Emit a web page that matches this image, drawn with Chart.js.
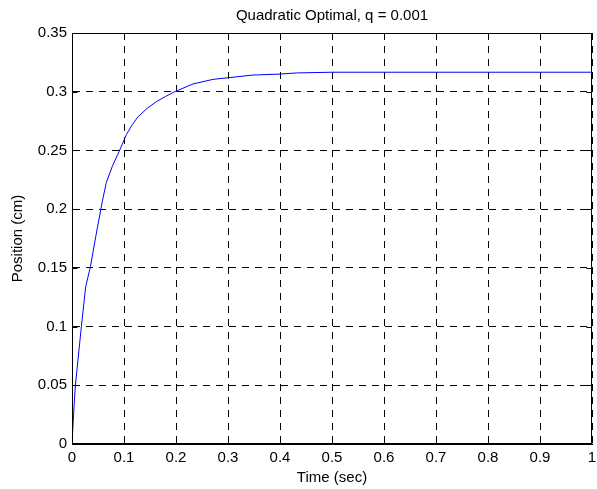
<!DOCTYPE html>
<html>
<head>
<meta charset="utf-8">
<script src="https://cdn.jsdelivr.net/npm/chart.js@4/dist/chart.umd.min.js"></script>
<style>
html,body{margin:0;padding:0;background:#fff;}
#wrap{width:597px;height:489px;}
</style>
</head>
<body>
<div id="wrap"><canvas id="c" width="597" height="489"></canvas></div>
<script>
const timeSec = [0, 0.003, 0.0065, 0.018, 0.0263, 0.0354, 0.0456, 0.0585, 0.066, 0.078, 0.0904, 0.1046, 0.116, 0.127, 0.145, 0.162, 0.18, 0.1975, 0.2327, 0.271, 0.30, 0.348, 0.361, 0.40, 0.432, 0.5, 0.6, 0.7, 0.8, 0.9, 1.0];
const positionCm = [0, 0.025, 0.05, 0.10, 0.134, 0.151, 0.1765, 0.207, 0.2227, 0.237, 0.2489, 0.2635, 0.272, 0.2787, 0.286, 0.2915, 0.296, 0.300, 0.3066, 0.3105, 0.3119, 0.3142, 0.3144, 0.315, 0.316, 0.3166, 0.3166, 0.3166, 0.3166, 0.3166, 0.3166];
const xTicks = [0, 0.1, 0.2, 0.3, 0.4, 0.5, 0.6, 0.7, 0.8, 0.9, 1];
const yTicks = [0, 0.05, 0.1, 0.15, 0.2, 0.25, 0.3, 0.35];

const FONT = "'Liberation Sans', Arial, Helvetica, sans-serif";
const FS = 15;
const points = timeSec.map((t, i) => ({x: t, y: positionCm[i]}));

const boxPlugin = {
  id: 'box',
  afterDatasetsDraw(chart) {
    const {ctx, chartArea: a, scales} = chart;
    ctx.save();
    ctx.strokeStyle = '#000';
    ctx.lineWidth = 1;
    ctx.setLineDash([]);
    const L = Math.round(a.left) + 0.5, R = Math.round(a.right) - 0.5;
    const T = Math.round(a.top) + 0.5, B = Math.round(a.bottom) - 0.5;
    ctx.strokeRect(L, T, R - L, B - T);
    ctx.beginPath();
    const tl = 5;
    scales.x.ticks.forEach(tk => {
      const px = Math.round(scales.x.getPixelForValue(tk.value)) + 0.5;
      ctx.moveTo(px, B); ctx.lineTo(px, B - tl);
      ctx.moveTo(px, T); ctx.lineTo(px, T + tl);
    });
    scales.y.ticks.forEach(tk => {
      const py = Math.round(scales.y.getPixelForValue(tk.value)) + 0.5;
      ctx.moveTo(L, py); ctx.lineTo(L + tl, py);
      ctx.moveTo(R, py); ctx.lineTo(R - tl, py);
    });
    ctx.stroke();
    ctx.restore();
  }
};

new Chart(document.getElementById('c'), {
  type: 'scatter',
  data: {
    datasets: [{
      data: points,
      showLine: true,
      borderColor: '#0000ff',
      borderWidth: 1,
      pointRadius: 0,
      tension: 0,
      fill: false
    }]
  },
  options: {
    responsive: false,
    animation: false,
    devicePixelRatio: 1,
    layout: {padding: {left: 0, right: 5, top: 0, bottom: 0}},
    plugins: {
      legend: {display: false},
      tooltip: {enabled: false},
      title: {
        display: true,
        fullSize: false,
        text: 'Quadratic Optimal, q = 0.001',
        color: '#000',
        font: {family: FONT, size: FS, weight: 'normal'},
        padding: {top: 6.5, bottom: 8.5}
      }
    },
    scales: {
      x: {
        type: 'linear',
        min: 0, max: 1,
        afterBuildTicks(s) { s.ticks = xTicks.map(v => ({value: v})); },
        afterFit(s) { s.height = 45; s.paddingLeft = 0; s.paddingRight = 0; },
        ticks: {
          color: '#000',
          font: {family: FONT, size: FS},
          padding: 5,
          maxRotation: 0,
          callback: v => String(v)
        },
        grid: {color: '#000', lineWidth: 1, drawTicks: false},
        border: {display: true, color: '#000', dash: [7, 6]},
        title: {
          display: true,
          text: 'Time (sec)',
          color: '#000',
          font: {family: FONT, size: FS},
          padding: {top: 0, bottom: 2}
        }
      },
      y: {
        type: 'linear',
        min: 0, max: 0.35,
        afterBuildTicks(s) { s.ticks = yTicks.map(v => ({value: v})); },
        afterFit(s) { s.width = 72; },
        ticks: {
          color: '#000',
          font: {family: FONT, size: FS},
          padding: 5,
          callback: v => String(v)
        },
        grid: {color: '#000', lineWidth: 1, drawTicks: false},
        border: {display: true, color: '#000', dash: [7, 6]},
        title: {
          display: true,
          text: 'Position (cm)',
          color: '#000',
          font: {family: FONT, size: FS},
          padding: {top: 9, bottom: 0}
        }
      }
    }
  },
  plugins: [boxPlugin]
});
</script>
</body>
</html>
